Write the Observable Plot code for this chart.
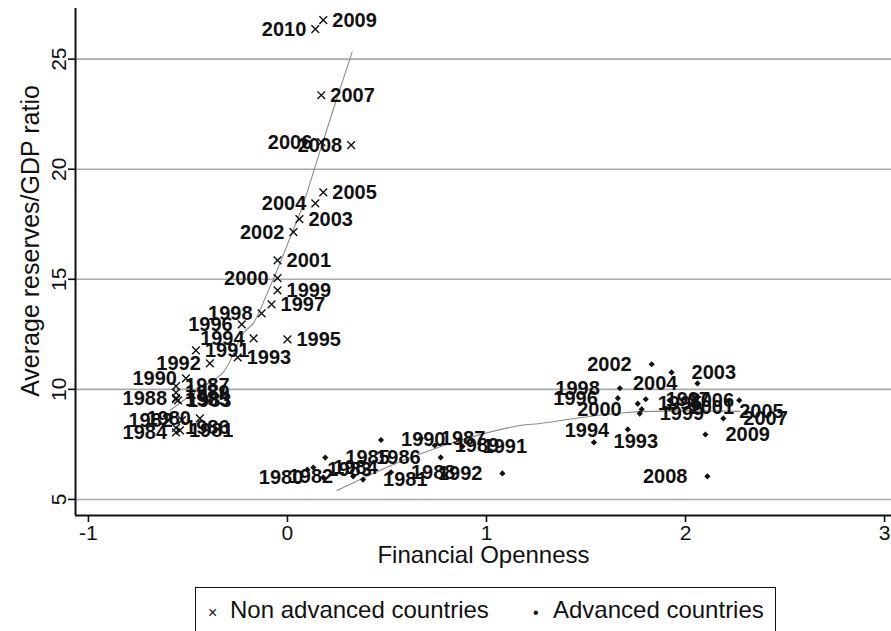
<!DOCTYPE html>
<html><head><meta charset="utf-8">
<script src="https://cdn.jsdelivr.net/npm/d3@7"></script>
<script src="https://cdn.jsdelivr.net/npm/@observablehq/plot@0.6"></script>
<style>
body{margin:0;background:#fff;width:891px;height:631px;overflow:hidden;position:relative;font-family:"Liberation Sans",Arial,sans-serif;color:#111;}
#chart{position:absolute;left:0;top:0;}
#legend{position:absolute;left:195px;top:587px;width:581px;height:70px;border:1.5px solid #111;box-sizing:border-box;}
#legend span{position:absolute;top:9px;font-size:24px;line-height:26px;white-space:nowrap;}
#legend span.sym{font-size:16px;top:12px;}
</style></head><body>
<div id="chart"></div>
<div id="legend">
<span class="sym" style="left:12px">×</span><span style="left:34px">Non advanced countries</span>
<span class="sym" style="left:337px">•</span><span style="left:357px">Advanced countries</span>
</div>
<script>
// Non advanced countries (x markers)
const nonYears = [1980,1981,1982,1983,1984,1985,1986,1987,1988,1989,1990,1991,1992,1993,1994,1995,1996,1997,1998,1999,2000,2001,2002,2003,2004,2005,2006,2007,2008,2009,2010];
const nonOpen  = [-0.44,-0.54,-0.53,-0.55,-0.56,-0.56,-0.56,-0.56,-0.56,-0.56,-0.51,-0.46,-0.39,-0.25,-0.17,0.00,-0.23,-0.08,-0.13,-0.05,-0.05,-0.05,0.03,0.06,0.14,0.18,0.17,0.17,0.32,0.18,0.14];
const nonRes   = [8.68,8.14,8.60,9.50,8.05,9.55,8.25,10.15,9.60,9.85,10.50,11.77,11.18,11.45,12.32,12.27,12.95,13.86,13.45,14.50,15.05,15.86,17.14,17.73,18.45,18.95,21.23,23.36,21.09,26.77,26.36];
const nonLabelLeft = [1980,1982,1984,1988,1990,1992,1994,1996,1998,2000,2002,2004,2006,2008,2010];

// Advanced countries (filled markers)
const advYears = [1980,1981,1982,1983,1984,1985,1986,1987,1988,1989,1990,1991,1992,1993,1994,1995,1996,1997,1998,1999,2000,2001,2002,2003,2004,2005,2006,2007,2008,2009];
const advOpen  = [0.18,0.38,0.33,0.10,0.13,0.19,0.77,0.67,0.52,0.74,0.47,0.88,1.08,1.71,1.54,1.76,1.66,1.80,1.67,1.77,1.78,1.92,1.83,1.93,2.06,2.27,1.92,2.19,2.11,2.10];
const advRes   = [6.00,5.90,6.05,6.35,6.45,6.90,6.91,7.77,6.23,7.45,7.70,7.41,6.18,8.18,7.59,9.35,9.60,9.55,10.05,8.90,9.10,9.15,11.14,10.77,10.27,9.50,9.50,8.68,6.05,7.95];
const advLabelLeft = [1980,1982,1986,1992,1996,1998,2000,2002,2004,2008];
const advLabelBelow = [1993];
const advLabelAbove = [1994];
const advLabelBelowRight = [2005];

// fitted curves
const fitNonX = [-0.589,-0.438,-0.323,-0.222,-0.172,-0.102,-0.052,0.014,0.074,0.149,0.229,0.325];
const fitNonY = [9.05,10.05,10.77,12.55,13.00,14.36,15.41,16.91,18.27,20.41,22.68,25.32];
const fitAdvX = [0.249,0.581,0.867,1.168,1.268,1.705,2.272];
const fitAdvY = [5.41,6.77,7.68,8.36,8.45,8.95,9.00];

const xTicks = [-1,0,1,2,3];
const yTicks = [5,10,15,20,25];
const xDomain = [-1.065,3.035];
const yDomain = [4.27,27.3];

const non = nonYears.map((year,i)=>({year,x:nonOpen[i],y:nonRes[i],side:nonLabelLeft.includes(year)?"L":"R"}));
const adv = advYears.map((year,i)=>({year,x:advOpen[i],y:advRes[i],
  side: advLabelLeft.includes(year)?"L":advLabelBelow.includes(year)?"B":advLabelAbove.includes(year)?"T":advLabelBelowRight.includes(year)?"BR":"R"}));
const fitNon = fitNonX.map((x,i)=>({x,y:fitNonY[i]}));
const fitAdv = fitAdvX.map((x,i)=>({x,y:fitAdvY[i]}));

const ink = "#111";
const lab = {x:"x",y:"y",text:d=>String(d.year),fontSize:20,fontWeight:"bold",fill:ink};
const fmt = d => String(d);

const chart = Plot.plot({
  width:891, height:582,
  marginTop:8, marginRight:0, marginBottom:67, marginLeft:75,
  style:{fontFamily:"'Liberation Sans', Arial, sans-serif", color:ink, background:"#fff"},
  x:{domain:xDomain},
  y:{domain:yDomain},
  marks:[
    Plot.gridY(yTicks,{stroke:"#a9a9a9",strokeOpacity:1,strokeWidth:1.6}),
    Plot.line(fitNon,{x:"x",y:"y",stroke:"#8c8c8c",strokeWidth:1.1,curve:"catmull-rom"}),
    Plot.line(fitAdv,{x:"x",y:"y",stroke:"#8c8c8c",strokeWidth:1.1,curve:"catmull-rom"}),
    Plot.dot(non,{x:"x",y:"y",symbol:"times",r:3.6,stroke:ink,strokeWidth:1.4}),
    Plot.dot(adv,{x:"x",y:"y",symbol:"diamond2",r:2.8,fill:ink,stroke:"none"}),
    Plot.text(non.filter(d=>d.side==="R"),{...lab,textAnchor:"start",dx:9}),
    Plot.text(non.filter(d=>d.side==="L"),{...lab,textAnchor:"end",dx:-9}),
    Plot.text(adv.filter(d=>d.side==="R"),{...lab,textAnchor:"start",dx:20}),
    Plot.text(adv.filter(d=>d.side==="L"),{...lab,textAnchor:"end",dx:-20}),
    Plot.text(adv.filter(d=>d.side==="B"),{...lab,textAnchor:"middle",dx:8,dy:12}),
    Plot.text(adv.filter(d=>d.side==="T"),{...lab,textAnchor:"middle",dx:-7,dy:-12}),
    Plot.text(adv.filter(d=>d.side==="BR"),{...lab,textAnchor:"start",dx:0,dy:11}),
    Plot.ruleX([xDomain[0]],{stroke:ink,strokeWidth:2}),
    Plot.ruleY([yDomain[0]],{stroke:ink,strokeWidth:2}),
    Plot.axisX(xTicks,{tickSize:7,tickPadding:3,fontSize:21,tickFormat:fmt,label:null,stroke:ink,strokeWidth:1.6}),
    Plot.axisY(yTicks,{tickSize:7,tickRotate:-90,tickPadding:3,fontSize:21,tickFormat:fmt,label:null,stroke:ink,strokeWidth:1.6}),
    Plot.text(["Financial Openness"],{frameAnchor:"bottom",dy:47,fontSize:24,fill:ink}),
    Plot.text(["Average reserves/GDP ratio"],{frameAnchor:"left",textAnchor:"middle",rotate:-90,dx:-45,dy:-21,fontSize:25,fill:ink})
  ]
});
document.getElementById("chart").appendChild(chart);
</script>
</body></html>
